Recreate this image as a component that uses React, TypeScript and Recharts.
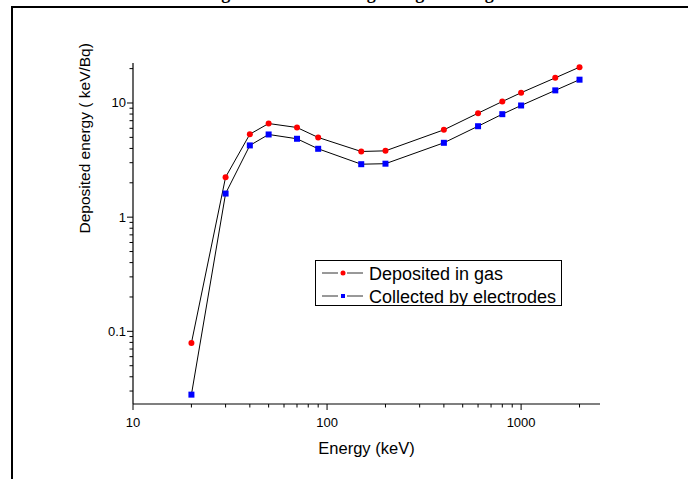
import { LineChart, Line, XAxis, YAxis, Legend } from 'recharts'

// energies of the electrons (keV)
const energies = [20, 30, 40, 50, 70, 90, 150, 200, 400, 600, 800, 1000, 1500, 2000]
// keV/Bq
const depositedInGas = [0.079, 2.24, 5.33, 6.61, 6.1, 4.99, 3.76, 3.81, 5.82, 8.14, 10.3, 12.3, 16.6, 20.6]
const collectedByElectrodes = [0.0279, 1.61, 4.25, 5.3, 4.86, 3.97, 2.91, 2.94, 4.48, 6.26, 7.98, 9.51, 12.9, 16.0]

const xTicks = [10, 20, 30, 40, 50, 60, 70, 80, 90, 100, 200, 300, 400, 500, 600, 700, 800, 900, 1000, 2000]
const xLabels = [10, 100, 1000]
const yTicks = [0.03, 0.04, 0.05, 0.06, 0.07, 0.08, 0.09, 0.1, 0.2, 0.3, 0.4, 0.5, 0.6, 0.7, 0.8, 0.9, 1, 2, 3, 4, 5, 6, 7, 8, 9, 10, 20]
const yLabels = [0.1, 1, 10]

const seriesOrder = ['gas', 'electrodes']
const seriesColors: Record<string, string> = { gas: '#ff0000', electrodes: '#0000ff' }

const data = energies.map((e, i) => ({
  energy: e,
  gas: depositedInGas[i],
  electrodes: collectedByElectrodes[i],
}))

const FONT = '"Liberation Sans", Arial, sans-serif'

const XTick = ({ x, y, payload }: any) => {
  const major = xLabels.includes(payload.value)
  return (
    <g>
      <line x1={x} x2={x} y1={y} y2={y + (major ? 6 : 3.5)} stroke="#000" />
      {major && (
        <text x={x} y={y + 23} textAnchor="middle" fontSize={13} fontFamily={FONT} fill="#000">
          {payload.value}
        </text>
      )}
    </g>
  )
}

const YTick = ({ x, y, payload }: any) => {
  const major = yLabels.includes(payload.value)
  return (
    <g>
      <line x1={x} x2={x - (major ? 6 : 3.5)} y1={y} y2={y} stroke="#000" />
      {major && (
        <text x={x - 7} y={y + 4.5} textAnchor="end" fontSize={13} fontFamily={FONT} fill="#000">
          {payload.value}
        </text>
      )}
    </g>
  )
}

const RedDot = ({ cx, cy }: any) => <circle cx={cx} cy={cy} r={3} fill={seriesColors.gas} />
const BlueDot = ({ cx, cy }: any) => (
  <rect x={cx - 3} y={cy - 3} width={6} height={6} fill={seriesColors.electrodes} />
)

const LegendBox = ({ payload }: any) => {
  const items = [...(payload || [])].sort(
    (a: any, b: any) => seriesOrder.indexOf(a.dataKey) - seriesOrder.indexOf(b.dataKey)
  )
  return (
    <svg width={247} height={46} style={{ display: 'block' }}>
      <rect x={0.5} y={0.5} width={246} height={45} fill="#fff" stroke="#000" />
      {items.map((p: any, i: number) => {
        const cy = 13 + i * 23
        const color = seriesColors[p.dataKey]
        return (
          <g key={p.value}>
            <line x1={7} x2={23} y1={cy} y2={cy} stroke="#333" />
            <line x1={32} x2={48} y1={cy} y2={cy} stroke="#333" />
            {p.dataKey === 'gas' ? (
              <circle cx={28} cy={cy} r={2.5} fill={color} />
            ) : (
              <rect x={26} y={cy - 2} width={4} height={4} fill={color} />
            )}
            <text x={54} y={cy + 6.5} fontSize={18} fontFamily={FONT} fill="#000">
              {p.value}
            </text>
          </g>
        )
      })}
    </svg>
  )
}

export default function App() {
  return (
    <div style={{ position: 'absolute', left: 0, top: 0, width: 688, height: 479, overflow: 'hidden', background: '#fff' }}>
      <div
        style={{
          position: 'absolute',
          left: 0,
          top: -17,
          width: 688,
          whiteSpace: 'nowrap',
          fontFamily: '"Liberation Serif", "Times New Roman", serif',
          fontWeight: 'bold',
          fontSize: 18,
          paddingLeft: 20,
        }}
      >
        Table 2. Values of the energies of the collecting charge of the gas
      </div>
      <div style={{ position: 'absolute', left: 11, top: 6, width: 700, height: 500, borderLeft: '2px solid #000', borderTop: '2px solid #000' }} />
      <div style={{ position: 'absolute', left: 0, top: 0 }}>
        <LineChart width={688} height={479} data={data} margin={{ top: 63, right: 88, bottom: 0, left: 0 }}>
          <XAxis
            dataKey="energy"
            type="number"
            scale="log"
            domain={[10, 2550]}
            allowDataOverflow
            ticks={xTicks}
            interval={0}
            tickSize={0}
            tickMargin={0}
            tickLine={false}
            tick={<XTick />}
            height={75}
            axisLine={{ stroke: '#000', strokeWidth: 1.2 }}
            label={{ value: 'Energy (keV)', position: 'insideBottom', offset: 25, fontSize: 16.5, fontFamily: FONT, fill: '#000' }}
          />
          <YAxis
            type="number"
            scale="log"
            domain={[0.0231, 22.4]}
            allowDataOverflow
            ticks={yTicks}
            interval={0}
            tickSize={0}
            tickMargin={0}
            tickLine={false}
            tick={<YTick />}
            width={133}
            axisLine={{ stroke: '#000', strokeWidth: 1.2 }}
            label={{ value: 'Deposited energy ( keV/Bq)', angle: -90, position: 'insideLeft', offset: 84, fontSize: 15.5, fontFamily: FONT, fill: '#000' }}
          />
          <Legend
            content={<LegendBox />}
            layout="horizontal"
            verticalAlign="middle"
            align="center"
            wrapperStyle={{ position: 'absolute', left: 315, top: 260, width: 247, height: 46 }}
          />
          <Line
            dataKey="gas"
            name="Deposited in gas"
            stroke="#000"
            strokeWidth={1}
            dot={<RedDot />}
            isAnimationActive={false}
          />
          <Line
            dataKey="electrodes"
            name="Collected by electrodes"
            stroke="#000"
            strokeWidth={1}
            dot={<BlueDot />}
            isAnimationActive={false}
          />
        </LineChart>
      </div>
    </div>
  )
}
